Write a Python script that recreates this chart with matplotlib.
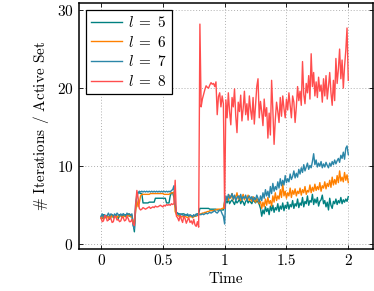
import numpy as np
import matplotlib
matplotlib.use("Agg")
import matplotlib.pyplot as plt

# time axis, step 0.01
t = np.linspace(0, 2, 201)

# l = 5
it_l5 = ([3.5, 3.3, 3.8, 3.6, 3.4, 3.7, 3.5, 3.2, 3.6, 3.8, 3.4, 3.5, 3.7, 3.6, 3.3,
          3.8, 3.7, 3.5, 3.9, 3.6, 3.8, 3.7, 3.9, 3.6, 3.8, 3.7, 2.6]
         + [1.6, 4.5, 6.5, 6.6, 6.6, 6.5, 6.5] + [5.3] * 5 + [5.4] * 5 + [5.9] * 9
         + [5.3] * 3 + [6.2, 6.6, 6.6, 6.0]
         + [5.0, 4.1, 4.0, 3.9, 3.9, 3.8, 3.9, 3.9, 3.8, 3.8, 3.7, 3.7, 3.6, 3.6, 3.6,
            3.7, 3.6, 3.8, 3.9, 3.9]
         + [4.6] * 8 + [4.5] * 6 + [4.4] * 6
         + [5.5,
            5.6, 5.3, 5.8, 5.2, 5.5, 5.7, 5.4, 5.1, 5.6, 5.3,
            5.5, 5.8, 5.2, 5.6, 5.4, 5.0, 5.5, 5.7, 5.3, 5.6,
            5.4, 5.2, 5.7, 5.5, 5.3, 5.6, 5.4, 5.1, 4.6, 3.6,
            4.4, 3.9, 4.8, 4.2, 4.6, 3.8, 4.9, 4.3, 5.0, 4.1,
            4.7, 4.4, 5.2, 4.2, 4.9, 4.5, 5.3, 4.3, 5.0, 4.6,
            5.4, 4.5, 5.1, 4.8, 5.6, 4.6, 5.2, 4.9, 5.8, 4.7,
            5.3, 5.0, 6.0, 4.8, 5.5, 5.2, 6.2, 5.0, 5.6, 5.4,
            6.4, 5.1, 5.8, 5.3, 6.0, 4.9, 5.5, 5.7, 6.3, 5.2,
            5.6, 4.8, 5.4, 4.4, 5.9, 5.0, 4.6, 5.5, 5.2, 5.8,
            5.1, 5.6, 5.3, 6.0, 5.2, 5.7, 5.4, 5.8, 5.5, 6.1])

# l = 6
it_l6 = ([3.3, 3.6, 3.2, 3.5, 3.4, 3.7, 3.3, 3.6, 3.4, 3.8, 3.5, 3.7, 3.6, 3.4, 3.7,
          3.5, 3.8, 3.6, 3.4, 3.7, 3.5, 3.8, 3.6, 3.9, 3.5, 3.7, 3.0]
         + [2.6, 4.3, 5.6, 4.8, 5.3, 6.2] + [6.4] * 7 + [6.5] * 11 + [6.4] * 5
         + [6.5, 6.6, 6.6, 6.7]
         + [4.2, 3.8, 3.7, 3.6, 3.7, 3.5, 3.6, 3.4, 3.6, 3.5, 3.4, 3.6, 3.5, 3.6, 3.4,
            3.5, 3.7, 3.6, 3.7, 3.8]
         + [3.9, 3.9, 4.0, 4.0, 4.1, 4.1, 4.2, 4.2, 4.3, 4.3, 4.3, 4.3, 4.4, 4.4, 4.5,
            4.5, 4.5, 4.5, 4.6, 4.6]
         + [5.4,
            5.8, 6.1, 5.6, 6.3, 5.9, 6.5, 5.7, 6.2, 6.0, 6.6,
            5.8, 6.2, 5.6, 6.0, 6.4, 5.7, 6.1, 5.9, 6.3, 5.6,
            5.9, 5.5, 6.1, 5.7, 5.4, 5.9, 5.6, 5.2, 5.5, 4.6,
            5.4, 4.8, 5.8, 5.0, 6.0, 5.2, 5.6, 4.9, 6.2, 5.4,
            6.6, 5.6, 6.2, 5.8, 7.0, 6.0, 7.8, 6.2, 6.8, 5.9,
            6.6, 6.2, 7.2, 6.0, 6.9, 6.4, 7.1, 6.2, 6.8, 6.5,
            7.2, 6.3, 7.0, 6.6, 7.4, 6.4, 6.9, 6.7, 7.6, 6.6,
            7.3, 6.8, 7.7, 6.9, 7.4, 7.0, 7.9, 6.8, 7.5, 7.2,
            8.0, 7.1, 7.8, 7.4, 8.2, 7.3, 8.6, 7.6, 8.3, 7.7,
            8.8, 7.9, 9.4, 8.1, 8.6, 8.0, 9.2, 8.2, 8.9, 7.9])

# l = 7
it_l7 = ([3.6, 3.9, 3.4, 3.8, 3.5, 3.7, 4.0, 3.6, 3.9, 3.8, 3.6, 3.9, 3.7, 4.0, 3.8,
          3.6, 3.9, 3.7, 3.9, 3.8, 3.6, 4.0, 3.8, 3.9, 3.7, 3.9, 2.4]
         + [2.0, 5.2, 6.0, 6.6] + [6.8, 6.7] * 13 + [6.9, 7.0, 7.5]
         + [5.2, 4.1, 3.9, 3.8, 3.7, 3.9, 3.8, 3.6, 3.8, 3.7, 3.9, 3.6, 3.8, 3.7, 3.5,
            3.8, 3.6, 3.9, 3.7, 3.8]
         + [3.8, 3.8, 3.9, 3.8, 3.9, 4.0, 3.9, 4.0, 4.1, 4.0, 4.1, 4.2, 4.3, 4.1, 4.0,
            4.2, 4.4, 4.3, 3.9, 3.6]
         + [2.6,
            6.2, 5.7, 6.4, 5.9, 6.1, 6.5, 5.8, 6.3, 5.6, 6.0,
            6.2, 5.8, 6.4, 5.7, 6.1, 5.9, 6.3, 5.6, 6.0, 6.2,
            5.8, 6.1, 5.5, 6.0, 5.7, 6.3, 5.9, 5.4, 6.2, 5.6,
            6.6, 5.9, 7.0, 6.2, 6.8, 6.0, 7.4, 6.5, 7.8, 6.8,
            7.4, 7.0, 8.0, 7.2, 8.4, 7.5, 8.2, 7.6, 8.8, 7.9,
            8.4, 8.0, 9.0, 8.3, 8.7, 9.4, 8.5, 9.1, 8.6, 9.6,
            9.0, 9.8, 9.2, 10.2, 9.4, 9.9, 10.4, 9.6, 10.1, 9.8,
            10.6, 11.6, 10.2, 10.8, 9.9, 10.4, 10.0, 10.6, 9.8, 10.3,
            9.9, 10.5, 10.1, 9.8, 10.4, 10.0, 10.6, 10.2, 10.8, 10.3,
            10.7, 11.0, 10.5, 11.4, 11.0, 11.8, 10.9, 12.3, 12.6, 11.5])

# l = 8
it_l8 = ([3.4, 2.9, 3.0, 3.7, 3.6, 3.0, 3.1, 3.5, 3.3, 2.8, 2.9, 3.6, 3.5, 3.1, 3.2,
          2.9, 3.0, 3.5, 3.4, 3.0, 3.1, 3.6, 3.3, 2.9, 2.9, 3.2, 2.6]
         + [2.4, 5.0, 6.9, 6.0, 4.6, 4.4, 4.5, 4.7, 4.6, 4.5, 4.6, 4.7, 4.8, 4.6, 4.7,
            4.8, 4.7, 4.9, 4.8, 4.8, 4.9, 5.0, 4.9, 4.8, 5.0, 4.9, 5.1, 5.0, 5.1, 5.0,
            5.2, 5.1, 5.2]
         + [8.2, 3.6, 3.4, 3.0, 3.7, 3.2, 2.8, 3.6, 3.3, 2.7, 3.1, 3.4, 2.8, 3.0, 2.6,
            3.2, 2.5, 2.3, 2.9, 2.2]
         + [28.2, 17.6, 18.6, 19.2, 19.8, 20.3, 20.1, 20.0, 20.4, 20.7, 20.5, 20.6, 20.2,
            20.8, 16.6, 18.9, 19.4, 17.6, 19.0, 18.0]
         + [4.6,
            18.5, 16.2, 19.4, 17.0, 15.3, 18.8, 17.6, 19.9, 16.4, 14.3,
            18.2, 17.0, 19.1, 15.8, 17.4, 19.6, 16.6, 18.0, 15.9, 19.0,
            17.2, 16.0, 18.8, 15.4, 17.9, 20.2, 21.2, 16.2, 18.3, 17.0,
            15.2, 18.6, 16.4, 17.5, 13.6, 16.8, 14.0, 21.0, 17.2, 12.8,
            16.0, 18.2, 17.0, 15.6, 18.8, 16.4, 19.0, 17.4, 16.2, 18.6,
            17.2, 19.4, 17.8, 16.2, 19.0, 18.2, 15.6, 17.6, 20.2, 18.4,
            19.6, 17.8, 23.4, 19.2, 18.0, 20.6, 19.4, 21.6, 18.6, 24.4,
            20.2, 22.0, 19.0, 20.8, 18.8, 21.4, 19.6, 20.4, 18.2, 21.2,
            19.0, 21.6, 18.6, 20.2, 22.0, 19.4, 17.8, 21.0, 18.4, 23.8,
            20.6, 22.4, 25.0, 21.2, 23.6, 20.0, 22.8, 24.8, 27.7, 21.0])

labels = [r'$l\;=\;5$', r'$l\;=\;6$', r'$l\;=\;7$', r'$l\;=\;8$']
colors = ['#008080', '#ff8000', '#2b86a8', '#ff4d4d']

plt.rcParams['font.family'] = 'serif'
plt.rcParams['font.serif'] = ['cmr10']
plt.rcParams['mathtext.fontset'] = 'cm'
plt.rcParams['axes.formatter.use_mathtext'] = True
plt.rcParams['font.size'] = 11

fig = plt.figure(figsize=(3.74, 2.91), dpi=100)
ax = fig.add_axes([0.2112, 0.1443, 0.7861, 0.8454])

for y, lab, c in zip([it_l5, it_l6, it_l7, it_l8], labels, colors):
    ax.plot(t, y, color=c, lw=1.0, label=lab)

ax.set_xlim(-0.178, 2.2)
ax.set_ylim(-0.6, 30.9)
ax.set_xticks([0, 0.5, 1, 1.5, 2])
ax.set_xticklabels(['0', '0.5', '1', '1.5', '2'])
ax.set_yticks([0, 10, 20, 30])
ax.grid(True, color='#b0b0b0', linestyle=(0, (1, 2)), lw=0.7)
ax.tick_params(direction='in', top=True, right=True, length=3, width=0.6, pad=4)
for s in ax.spines.values():
    s.set_linewidth(1.1)

ax.set_xlabel('Time', labelpad=3)
ax.set_ylabel(r'$\#$ Iterations / Active Set', labelpad=4)

leg = ax.legend(loc='upper left', fancybox=False, edgecolor='black',
                framealpha=1, borderaxespad=0.45, handlelength=2.0,
                handletextpad=0.4, labelspacing=0.3, borderpad=0.35)
leg.get_frame().set_linewidth(0.9)

fig.savefig('out.png', dpi=100)
